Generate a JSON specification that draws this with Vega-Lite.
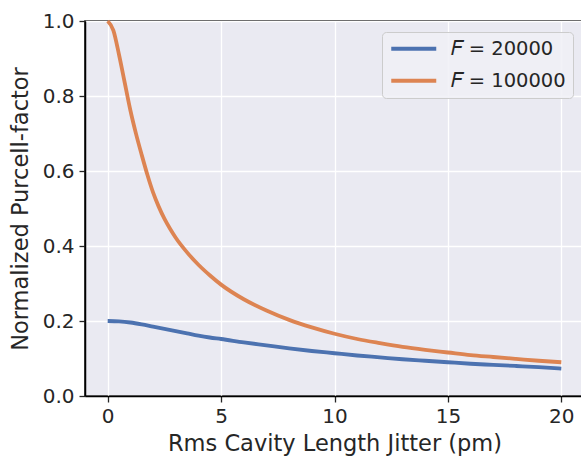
{
  "$schema": "https://vega.github.io/schema/vega-lite/v6.json",
  "width": 499,
  "height": 375,
  "autosize": "none",
  "padding": {"left": 85, "top": 21, "right": 0, "bottom": 60},
  "background": "white",
  "config": {
    "font": "DejaVu Sans",
    "view": {"fill": "#EAEAF2", "stroke": "#000000", "strokeWidth": 1.5},
    "axis": {
      "grid": true, "gridColor": "#FFFFFF", "gridWidth": 1.3,
      "domain": true, "domainColor": "#000000", "domainWidth": 1.5,
      "ticks": true, "tickColor": "#262626", "tickSize": 6, "tickWidth": 1.3,
      "labelFont": "DejaVu Sans", "labelFontSize": 20, "labelColor": "#262626",
      "titleFont": "DejaVu Sans", "titleFontSize": 22.5, "titleColor": "#262626", "titleFontWeight": "normal"
    }
  },
  "data": {"values": [
    {"x": 0, "y": 0.200, "s": "F = 20000"},
    {"x": 0.5, "y": 0.199, "s": "F = 20000"},
    {"x": 1, "y": 0.196, "s": "F = 20000"},
    {"x": 1.5, "y": 0.191, "s": "F = 20000"},
    {"x": 2, "y": 0.185, "s": "F = 20000"},
    {"x": 2.5, "y": 0.179, "s": "F = 20000"},
    {"x": 3, "y": 0.173, "s": "F = 20000"},
    {"x": 3.5, "y": 0.167, "s": "F = 20000"},
    {"x": 4, "y": 0.161, "s": "F = 20000"},
    {"x": 4.5, "y": 0.156, "s": "F = 20000"},
    {"x": 5, "y": 0.152, "s": "F = 20000"},
    {"x": 6, "y": 0.143, "s": "F = 20000"},
    {"x": 7, "y": 0.135, "s": "F = 20000"},
    {"x": 8, "y": 0.127, "s": "F = 20000"},
    {"x": 9, "y": 0.120, "s": "F = 20000"},
    {"x": 10, "y": 0.114, "s": "F = 20000"},
    {"x": 11, "y": 0.108, "s": "F = 20000"},
    {"x": 12, "y": 0.103, "s": "F = 20000"},
    {"x": 13, "y": 0.098, "s": "F = 20000"},
    {"x": 14, "y": 0.094, "s": "F = 20000"},
    {"x": 15, "y": 0.090, "s": "F = 20000"},
    {"x": 16, "y": 0.086, "s": "F = 20000"},
    {"x": 17, "y": 0.083, "s": "F = 20000"},
    {"x": 18, "y": 0.080, "s": "F = 20000"},
    {"x": 19, "y": 0.077, "s": "F = 20000"},
    {"x": 20, "y": 0.073, "s": "F = 20000"},
    {"x": 0, "y": 1.000, "s": "F = 100000"},
    {"x": 0.25, "y": 0.975, "s": "F = 100000"},
    {"x": 0.5, "y": 0.910, "s": "F = 100000"},
    {"x": 0.75, "y": 0.836, "s": "F = 100000"},
    {"x": 1, "y": 0.762, "s": "F = 100000"},
    {"x": 1.25, "y": 0.699, "s": "F = 100000"},
    {"x": 1.5, "y": 0.643, "s": "F = 100000"},
    {"x": 1.75, "y": 0.590, "s": "F = 100000"},
    {"x": 2, "y": 0.543, "s": "F = 100000"},
    {"x": 2.25, "y": 0.505, "s": "F = 100000"},
    {"x": 2.5, "y": 0.473, "s": "F = 100000"},
    {"x": 2.75, "y": 0.446, "s": "F = 100000"},
    {"x": 3, "y": 0.422, "s": "F = 100000"},
    {"x": 3.5, "y": 0.383, "s": "F = 100000"},
    {"x": 4, "y": 0.350, "s": "F = 100000"},
    {"x": 4.5, "y": 0.322, "s": "F = 100000"},
    {"x": 5, "y": 0.297, "s": "F = 100000"},
    {"x": 6, "y": 0.258, "s": "F = 100000"},
    {"x": 7, "y": 0.228, "s": "F = 100000"},
    {"x": 8, "y": 0.203, "s": "F = 100000"},
    {"x": 9, "y": 0.183, "s": "F = 100000"},
    {"x": 10, "y": 0.166, "s": "F = 100000"},
    {"x": 11, "y": 0.152, "s": "F = 100000"},
    {"x": 12, "y": 0.141, "s": "F = 100000"},
    {"x": 13, "y": 0.131, "s": "F = 100000"},
    {"x": 14, "y": 0.123, "s": "F = 100000"},
    {"x": 15, "y": 0.116, "s": "F = 100000"},
    {"x": 16, "y": 0.109, "s": "F = 100000"},
    {"x": 17, "y": 0.104, "s": "F = 100000"},
    {"x": 18, "y": 0.099, "s": "F = 100000"},
    {"x": 19, "y": 0.094, "s": "F = 100000"},
    {"x": 20, "y": 0.090, "s": "F = 100000"}
  ]},
  "mark": {"type": "line", "strokeWidth": 3.8, "interpolate": "monotone", "clip": false},
  "encoding": {
    "x": {"field": "x", "type": "quantitative",
      "scale": {"domain": [-1, 21], "nice": false, "zero": false},
      "axis": {"values": [0, 5, 10, 15, 20], "title": "Rms Cavity Length Jitter (pm)", "titlePadding": 6, "labelPadding": 4}},
    "y": {"field": "y", "type": "quantitative",
      "scale": {"domain": [0, 1], "nice": false},
      "axis": {"values": [0, 0.2, 0.4, 0.6, 0.8, 1.0], "format": ".1f", "title": "Normalized Purcell-factor", "titlePadding": 10, "labelPadding": 5}},
    "color": {"field": "s", "type": "nominal",
      "scale": {"domain": ["F = 20000", "F = 100000"], "range": ["#4C72B0", "#DD8452"]},
      "legend": {
        "title": null, "orient": "top-right", "offset": 11,
        "labelExpr": "replace(datum.label, 'F', '𝐹')",
        "symbolType": "M-1,0H5", "symbolSize": 225, "symbolStrokeWidth": 3.8,
        "labelFont": "DejaVu Sans", "labelFontSize": 19.5, "labelColor": "#262626",
        "fillColor": "rgba(240,240,246,0.85)", "strokeColor": "#CCCCCC", "cornerRadius": 4,
        "padding": 7, "rowPadding": 11, "labelOffset": 42
      }}
  }
}
